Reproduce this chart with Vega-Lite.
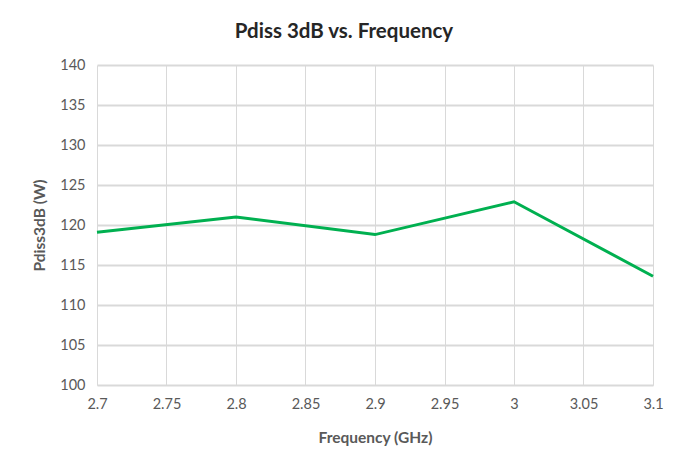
{
  "$schema": "https://vega.github.io/schema/vega-lite/v6.json",
  "width": 556,
  "height": 320,
  "autosize": {"type": "none"},
  "padding": {"left": 97, "top": 65, "right": 35, "bottom": 73},
  "background": "white",
  "title": {
    "text": "Pdiss 3dB vs. Frequency",
    "font": "Lato",
    "fontSize": 20.5,
    "fontWeight": "bold",
    "color": "#262626",
    "anchor": "middle",
    "dx": -31,
    "offset": 15
  },
  "data": {
    "values": [
      {"freq": 2.7, "pdiss": 119.1},
      {"freq": 2.8, "pdiss": 121.0},
      {"freq": 2.9, "pdiss": 118.8},
      {"freq": 3.0, "pdiss": 122.9},
      {"freq": 3.1, "pdiss": 113.6}
    ]
  },
  "mark": {"type": "line", "color": "#00b050", "strokeWidth": 3},
  "encoding": {
    "x": {
      "field": "freq",
      "type": "quantitative",
      "scale": {"domain": [2.7, 3.1], "nice": false, "zero": false},
      "axis": {
        "title": "Frequency (GHz)",
        "values": [2.7, 2.75, 2.8, 2.85, 2.9, 2.95, 3.0, 3.05, 3.1],
        "labelExpr": "format(datum.value, '~g')",
        "labelFlush": false,
        "gridWidth": 1,
        "labelPadding": 12,
        "titlePadding": 20
      }
    },
    "y": {
      "field": "pdiss",
      "type": "quantitative",
      "scale": {"domain": [100, 140], "nice": false, "zero": false},
      "axis": {
        "title": "Pdiss3dB (W)",
        "values": [100, 105, 110, 115, 120, 125, 130, 135, 140],
        "gridWidth": 2,
        "domain": false,
        "labelPadding": 12,
        "titlePadding": 12
      }
    }
  },
  "config": {
    "view": {"stroke": null},
    "axis": {
      "labelFont": "Lato",
      "labelFontSize": 14.5,
      "labelColor": "#595959",
      "titleFont": "Lato",
      "titleFontSize": 15.5,
      "titleFontWeight": "bold",
      "titleColor": "#595959",
      "gridColor": "#d9d9d9",
      "domainColor": "#d9d9d9",
      "domainWidth": 1,
      "ticks": false
    }
  }
}
